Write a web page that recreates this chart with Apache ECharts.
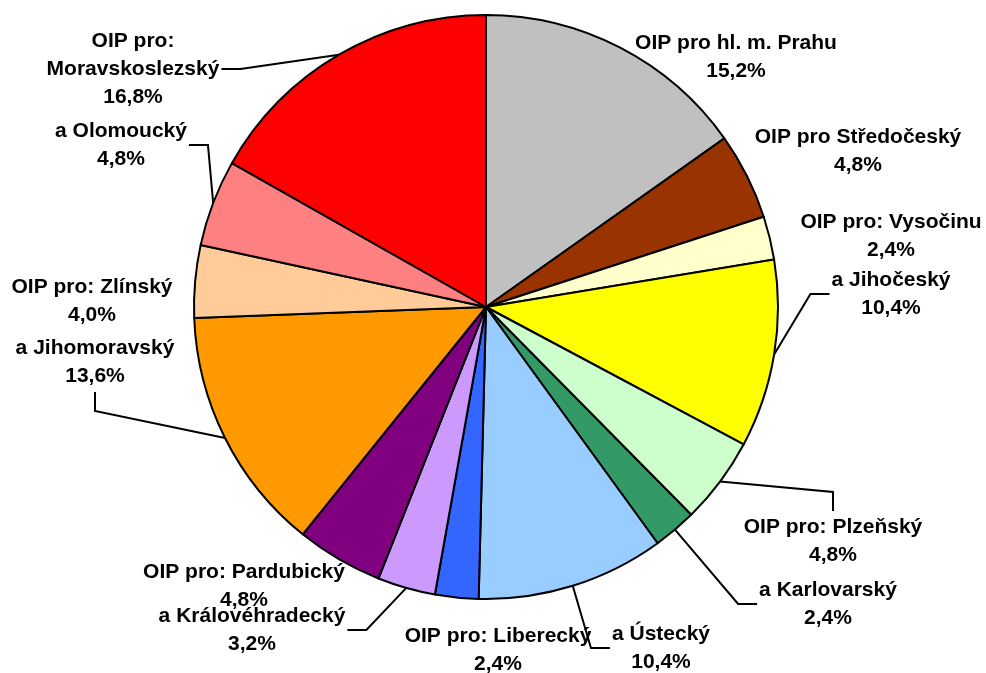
<!DOCTYPE html>
<html>
<head>
<meta charset="utf-8">
<script src="https://cdn.jsdelivr.net/npm/echarts@6/dist/echarts.min.js"></script>
<style>
  html, body { margin: 0; padding: 0; background: #fff; }
  #chart { width: 986px; height: 673px; }
</style>
</head>
<body>
<div id="chart"></div>
<script>
// slices, clockwise from 12 o'clock
const names = [
  'OIP pro hl. m. Prahu',
  'OIP pro Středočeský',
  'OIP pro: Vysočinu',
  'a Jihočeský',
  'OIP pro: Plzeňský',
  'a Karlovarský',
  'a Ústecký',
  'OIP pro: Liberecký',
  'a Královéhradecký',
  'OIP pro: Pardubický',
  'a Jihomoravský',
  'OIP pro: Zlínský',
  'a Olomoucký',
  'OIP pro:\nMoravskoslezský'
]
const shares = [15.2, 4.8, 2.4, 10.4, 4.8, 2.4, 10.4, 2.4, 3.2, 4.8, 13.6, 4.0, 4.8, 16.8]
const colors = [
  '#c0c0c0', '#993300', '#ffffcc', '#ffff00', '#ccffcc', '#339966', '#99ccff',
  '#3366ff', '#cc99ff', '#800080', '#ff9900', '#ffcc99', '#ff8080', '#ff0000'
]

// label placement (centre of each text block) and which side the leader line joins
const labelX = [736, 858, 891, 891, 833, 828, 661, 498, 252, 244, 95, 92, 121, 133]
const labelY = [57, 151, 236, 294, 541, 604, 648, 650, 630, 586, 362, 301, 145, 69]
const lineSide = [null, null, null, 'left', 'top', 'left', 'left', null, 'right', null, 'bottom', null, 'right', 'right']
const elbow = 19
const gap = 2

const pct = (v) => v.toFixed(1).replace('.', ',') + '%'

const chart = echarts.init(document.getElementById('chart'))
chart.setOption({
  animation: false,
  backgroundColor: '#fff',
  series: [
    {
      type: 'pie',
      center: [486, 307],
      radius: 292,
      startAngle: 90,
      clockwise: true,
      avoidLabelOverlap: false,
      itemStyle: {
        borderColor: '#000',
        borderWidth: 2,
      },
      label: {
        show: true,
        position: 'outside',
        color: '#000',
        fontFamily: '"Liberation Sans", Arial, sans-serif',
        fontWeight: 'bold',
        fontSize: 21,
        lineHeight: 28,
        align: 'center',
        formatter: (p) => p.name + '\n' + pct(p.value),
      },
      labelLine: {
        show: true,
        length: 10,
        length2: 10,
        smooth: false,
        lineStyle: { color: '#000', width: 2 },
      },
      emphasis: { disabled: true },
      labelLayout: (params) => {
        const i = params.dataIndex
        const x = labelX[i]
        const y = labelY[i]
        const out = { x: x, y: y, align: 'center', verticalAlign: 'middle' }
        const side = lineSide[i]
        const pts = params.labelLinePoints
        if (side && pts) {
          const w = params.labelRect.width / 2
          const h = params.labelRect.height / 2
          let end, mid
          if (side === 'left') {
            end = [x - w - gap, y]
            mid = [end[0] - elbow, y]
          } else if (side === 'right') {
            end = [x + w + gap, y]
            mid = [end[0] + elbow, y]
          } else if (side === 'top') {
            end = [x, y - h - gap]
            mid = [x, end[1] - elbow]
          } else {
            end = [x, y + h + gap]
            mid = [x, end[1] + elbow]
          }
          out.labelLinePoints = [pts[0], mid, end]
        }
        return out
      },
      data: names.map((name, i) => ({
        name: name,
        value: shares[i],
        itemStyle: { color: colors[i] },
        labelLine: { show: lineSide[i] !== null },
      })),
    },
  ],
})
</script>
</body>
</html>
